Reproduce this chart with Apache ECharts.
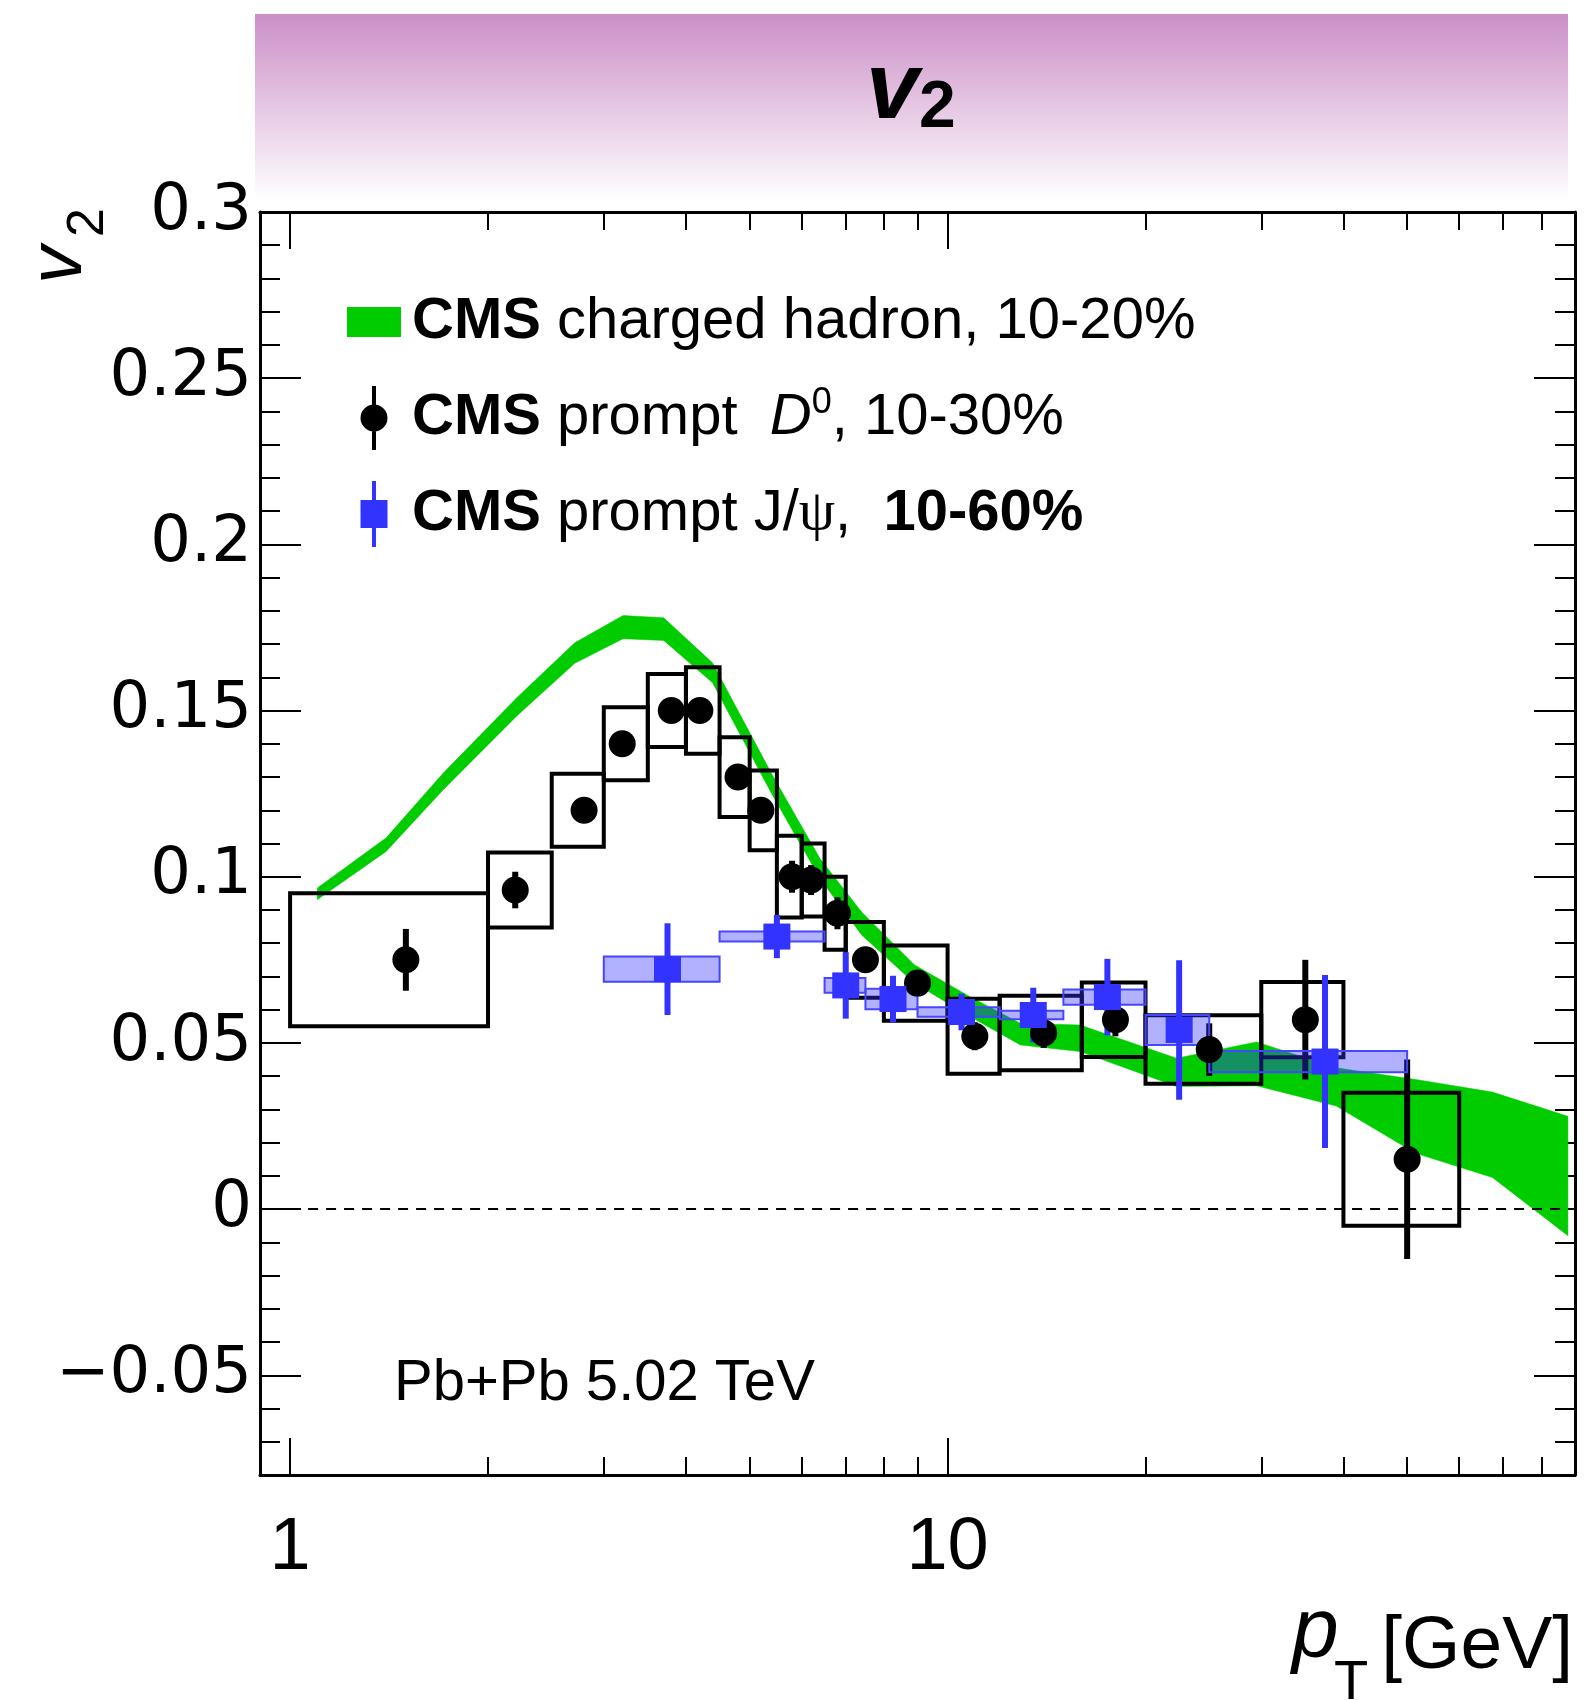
<!DOCTYPE html>
<html>
<head>
<meta charset="utf-8">
<title>v2 vs pT</title>
<script src="https://cdn.jsdelivr.net/npm/echarts@6.0.0/dist/echarts.min.js"></script>
<style>
  html, body { margin: 0; padding: 0; background: #fff; }
  #chart_container { width: 1584px; height: 1700px; }
</style>
</head>
<body>
<div id="chart_container"></div>
<script>
// ---- data ----
// CMS charged hadron v2, 10-20% (band: lower / upper edge)
var hadronPt = [1.1, 1.4, 1.71, 2.21, 2.71, 3.21, 3.7, 4.39, 5.4, 6.4, 7.4, 8.9, 10.8, 12.9, 15.9, 22.3, 29.5, 39, 51.5, 67.4, 87.8];
var hadronLo = [0.0931, 0.1076, 0.1262, 0.1483, 0.1642, 0.1716, 0.1711, 0.1584, 0.125, 0.0994, 0.0825, 0.068, 0.058, 0.0494, 0.0474, 0.0369, 0.0371, 0.031, 0.0168, 0.0095, -0.008];
var hadronHi = [0.0966, 0.1117, 0.1312, 0.1538, 0.1704, 0.1786, 0.1779, 0.1644, 0.131, 0.1054, 0.0894, 0.0735, 0.064, 0.0559, 0.0554, 0.0454, 0.0503, 0.0425, 0.039, 0.0352, 0.0279];

// CMS prompt D0, 10-30%
var d0Pt    = [1.5, 2.2, 2.8, 3.2, 3.8, 4.2, 4.8, 5.2, 5.8, 6.2, 6.8, 7.5, 9.0, 11.0, 14.0, 18.0, 25.0, 35.0, 50.0];
var d0V2    = [0.075, 0.096, 0.120, 0.140, 0.150, 0.150, 0.130, 0.120, 0.100, 0.099, 0.089, 0.075, 0.068, 0.052, 0.053, 0.057, 0.048, 0.057, 0.015];
var d0Stat  = [0.0093, 0.0055, 0.003, 0.003, 0.003, 0.003, 0.003, 0.003, 0.0048, 0.0045, 0.0048, 0.003, 0.003, 0.0042, 0.0045, 0.005, 0.0079, 0.018, 0.030];
var d0Syst  = [0.020, 0.0113, 0.011, 0.011, 0.011, 0.013, 0.012, 0.012, 0.0123, 0.011, 0.011, 0.0114, 0.0113, 0.0113, 0.0112, 0.0112, 0.0103, 0.0113, 0.020];
var d0BinLo = [1, 2, 2.5, 3, 3.5, 4, 4.5, 5, 5.5, 6, 6.5, 7, 8, 10, 12, 16, 20, 30, 40];
var d0BinHi = [2, 2.5, 3, 3.5, 4, 4.5, 5, 5.5, 6, 6.5, 7, 8, 10, 12, 16, 20, 30, 40, 60];

// CMS prompt J/psi, 10-60%
var jpsiPt    = [3.75, 5.5, 7.0, 8.26, 10.5, 13.5, 17.5, 22.5, 37.5];
var jpsiV2    = [0.0722, 0.082, 0.0673, 0.0632, 0.0593, 0.0584, 0.0638, 0.0539, 0.0444];
var jpsiStat  = [0.0138, 0.0065, 0.010, 0.007, 0.0055, 0.0082, 0.0115, 0.021, 0.026];
var jpsiSyst  = [0.0038, 0.0015, 0.0022, 0.0031, 0.0014, 0.0013, 0.0023, 0.0045, 0.0032];
var jpsiBinLo = [3, 4.5, 6.5, 7.5, 9, 12, 15, 20, 25];
var jpsiBinHi = [4.5, 6.5, 7.5, 9, 12, 15, 20, 25, 50];

// axis ticks
var yMajorTicks = [-0.05, 0, 0.05, 0.1, 0.15, 0.2, 0.25, 0.3];
var xMajorTicks = [1, 10];
var xMinorTicks = [2, 3, 4, 5, 6, 7, 8, 9, 20, 30, 40, 50, 60, 70, 80];

var hadronName = "CMS charged hadron, 10-20%";
var d0Name = "CMS prompt D0, 10-30%";
var jpsiName = "CMS prompt J/psi, 10-60%";

var dom = document.getElementById("chart_container");
var myChart = echarts.init(dom, null, {
  renderer: "canvas",
  useDirtyRect: false,
});
var option;

function xAxisDef(pos, ticks, len, withLabels, withLine) {
  var ax = {
    type: "log",
    logBase: 10,
    min: 0.9,
    max: 90,
    position: pos,
    axisLine: { show: withLine, onZero: false, lineStyle: { color: "#000", width: 3 } },
    axisTick: { show: true, inside: true, length: len, customValues: ticks, lineStyle: { color: "#000", width: 2 } },
    axisLabel: { show: false },
    splitLine: { show: false },
    minorTick: { show: false },
  };
  if (withLabels) {
    ax.axisLabel = {
      show: true,
      customValues: ticks,
      margin: 37,
      fontSize: 74,
      color: "#000",
      fontFamily: "Liberation Sans",
    };
  }
  return ax;
}

function yAxisDef(pos, len, major, withLabels, withLine) {
  var ax = {
    type: "value",
    min: -0.08,
    max: 0.3,
    position: pos,
    axisLine: { show: withLine, onZero: false, lineStyle: { color: "#000", width: 3 } },
    axisTick: { show: true, inside: true, length: len, lineStyle: { color: "#000", width: 2 } },
    axisLabel: { show: false },
    splitLine: { show: false },
  };
  if (major) {
    ax.axisTick.customValues = yMajorTicks;
  } else {
    ax.interval = 0.01;
  }
  if (withLabels) {
    ax.axisLabel = {
      show: true,
      customValues: yMajorTicks,
      showMinLabel: true,
      showMaxLabel: true,
      margin: 8,
      fontSize: 64,
      color: "#000",
      fontFamily: "DejaVu Sans",
      formatter: function (v) {
        return String(v).replace("-", "\u2212");
      },
    };
  }
  return ax;
}

// green band drawn as one polygon through the axis scales
function renderBand(params, api) {
  if (params.dataIndex !== 0) return null;
  var pts = [];
  for (var i = 0; i < hadronPt.length; i++) pts.push(api.coord([hadronPt[i], hadronHi[i]]));
  for (var j = hadronPt.length - 1; j >= 0; j--) pts.push(api.coord([hadronPt[j], hadronLo[j]]));
  return {
    type: "polygon",
    shape: { points: pts },
    style: { fill: "#00cc00", stroke: "#00cc00", lineWidth: 0.5 },
  };
}

// systematic boxes: [binLo, binHi, v2, syst]
function boxRenderer(fill, stroke, width) {
  return function (params, api) {
    var p0 = api.coord([api.value(0), api.value(2) + api.value(3)]);
    var p1 = api.coord([api.value(1), api.value(2) - api.value(3)]);
    return {
      type: "rect",
      shape: { x: p0[0], y: p0[1], width: p1[0] - p0[0], height: p1[1] - p0[1] },
      style: { fill: fill, stroke: stroke, lineWidth: width },
    };
  };
}

// stat error bars: [pt, v2, stat]
function barRenderer(color) {
  return function (params, api) {
    var top = api.coord([api.value(0), api.value(1) + api.value(2)]);
    var bot = api.coord([api.value(0), api.value(1) - api.value(2)]);
    return {
      type: "rect",
      shape: { x: top[0] - 3, y: top[1], width: 6, height: bot[1] - top[1] },
      style: { fill: color },
    };
  };
}

var bandData = hadronPt.map(function (p, i) { return [p, hadronLo[i], hadronHi[i]]; });
var d0BoxData = d0Pt.map(function (p, i) { return [d0BinLo[i], d0BinHi[i], d0V2[i], d0Syst[i]]; });
var d0BarData = d0Pt.map(function (p, i) { return [p, d0V2[i], d0Stat[i]]; });
var d0PointData = d0Pt.map(function (p, i) { return [p, d0V2[i]]; });
var jpsiBoxData = jpsiPt.map(function (p, i) { return [jpsiBinLo[i], jpsiBinHi[i], jpsiV2[i], jpsiSyst[i]]; });
var jpsiBarData = jpsiPt.map(function (p, i) { return [p, jpsiV2[i], jpsiStat[i]]; });
var jpsiPointData = jpsiPt.map(function (p, i) { return [p, jpsiV2[i]]; });

var legendText = {};
legendText[hadronName] = "{t|}{b|CMS}{r| charged hadron, 10-20%}";
legendText[d0Name] = "{t|}{b|CMS}{r| prompt  }{i|D}{sup|0}{r|, 10-30%}";
legendText[jpsiName] = "{t|}{b|CMS}{r| prompt J/}{psi|\u03c8}{r|,  }{b|10-60%}";

var bandGradient = new echarts.graphic.LinearGradient(0, 0, 0, 1, [
  { offset: 0, color: "#cc8fc8" },
  { offset: 1, color: "#ffffff" },
]);

option = {
  animation: false,
  backgroundColor: "#ffffff",
  textStyle: { fontFamily: "Liberation Sans" },
  grid: { left: 260, right: 9, top: 212, bottom: 225, outerBoundsMode: "none" },
  xAxis: [
    xAxisDef("bottom", xMajorTicks, 37, true, true),
    xAxisDef("bottom", xMinorTicks, 18, false, false),
    xAxisDef("top", xMajorTicks, 37, false, true),
    xAxisDef("top", xMinorTicks, 18, false, false),
  ],
  yAxis: [
    yAxisDef("left", 41, true, true, true),
    yAxisDef("left", 20, false, false, false),
    yAxisDef("right", 41, true, false, true),
    yAxisDef("right", 20, false, false, false),
  ],
  legend: {
    orient: "vertical",
    left: 342,
    top: 284,
    itemWidth: 54,
    itemHeight: 66,
    itemGap: 30,
    data: [
      {
        name: hadronName,
        icon: "path://M0 0M54 66M0 18L54 18L54 48L0 48Z",
        itemStyle: { color: "#00cc00", borderWidth: 0 },
      },
      {
        name: d0Name,
        icon: "path://M0 0M54 66M25 1L29 1L29 65L25 65ZM40.5 33A13.5 13.5 0 1 1 13.5 33A13.5 13.5 0 1 1 40.5 33Z",
        itemStyle: { color: "#000000", borderWidth: 0 },
      },
      {
        name: jpsiName,
        icon: "path://M0 0M54 66M25 0L29 0L29 66L25 66ZM13.5 19L40.5 19L40.5 47L13.5 47Z",
        itemStyle: { color: "#3333ff", borderWidth: 0 },
      },
    ],
    formatter: function (name) {
      return legendText[name];
    },
    textStyle: {
      color: "#000",
      fontSize: 58,
      lineHeight: 66,
      fontFamily: "Liberation Sans",
      rich: {
        t: { width: 6, fontSize: 58, lineHeight: 66 },
        b: { fontSize: 58, lineHeight: 66, fontWeight: "bold", fontFamily: "Liberation Sans" },
        r: { fontSize: 58, lineHeight: 66, fontFamily: "Liberation Sans" },
        i: { fontSize: 58, lineHeight: 66, fontStyle: "italic", fontFamily: "Liberation Sans" },
        sup: { fontSize: 36, verticalAlign: "top", fontFamily: "Liberation Sans" },
        psi: { fontSize: 58, lineHeight: 66, fontFamily: "Liberation Serif" },
      },
    },
  },
  graphic: [
    {
      type: "rect",
      x: 255,
      y: 14,
      shape: { width: 1313, height: 186 },
      style: { fill: bandGradient },
      silent: true,
    },
    {
      type: "text",
      x: 866,
      y: 92,
      style: { text: "v", font: 'italic bold 95px "Liberation Sans"', fill: "#000", align: "left", verticalAlign: "middle" },
    },
    {
      type: "text",
      x: 919,
      y: 109,
      style: { text: "2", font: 'bold 66px "Liberation Sans"', fill: "#000", align: "left", verticalAlign: "middle" },
    },
    {
      type: "text",
      x: 60,
      y: 284,
      rotation: Math.PI / 2,
      style: { text: "v", font: 'italic 76px "Liberation Sans"', fill: "#000", align: "left", verticalAlign: "middle" },
    },
    {
      type: "text",
      x: 89,
      y: 237,
      rotation: Math.PI / 2,
      style: { text: "2", font: '52px "Liberation Sans"', fill: "#000", align: "left", verticalAlign: "middle" },
    },
    {
      type: "text",
      x: 1292,
      y: 1634,
      style: { text: "p", font: 'italic 84px "Liberation Sans"', fill: "#000", align: "left", verticalAlign: "middle" },
    },
    {
      type: "text",
      x: 1334,
      y: 1684,
      style: { text: "T", font: '56px "Liberation Sans"', fill: "#000", align: "left", verticalAlign: "middle" },
    },
    {
      type: "text",
      x: 1573,
      y: 1647,
      style: { text: "[GeV]", font: '75px "Liberation Sans"', fill: "#000", align: "right", verticalAlign: "middle" },
    },
    {
      type: "text",
      x: 394,
      y: 1384,
      style: { text: "Pb+Pb 5.02 TeV", font: '58px "Liberation Sans"', fill: "#000", align: "left", verticalAlign: "middle" },
    },
  ],
  series: [
    {
      name: hadronName,
      type: "custom",
      renderItem: renderBand,
      encode: { x: 0, y: [1, 2] },
      data: bandData,
      silent: true,
      markLine: {
        silent: true,
        symbol: "none",
        label: { show: false },
        lineStyle: { color: "#000", width: 2, type: [10, 8] },
        data: [[{ coord: [1, 0] }, { coord: [90, 0] }]],
      },
    },
    {
      name: d0Name,
      type: "custom",
      renderItem: boxRenderer("rgba(0,0,0,0)", "#000", 4),
      encode: { x: [0, 1], y: 2 },
      data: d0BoxData,
    },
    {
      name: d0Name,
      type: "custom",
      renderItem: barRenderer("#000"),
      encode: { x: 0, y: 1 },
      data: d0BarData,
    },
    {
      name: d0Name,
      type: "scatter",
      symbol: "circle",
      symbolSize: 27,
      itemStyle: { color: "#000", opacity: 1 },
      data: d0PointData,
    },
    {
      name: jpsiName,
      type: "custom",
      renderItem: boxRenderer("rgba(51,51,255,0.38)", "#4646ff", 2),
      encode: { x: [0, 1], y: 2 },
      data: jpsiBoxData,
    },
    {
      name: jpsiName,
      type: "custom",
      renderItem: barRenderer("#3333ff"),
      encode: { x: 0, y: 1 },
      data: jpsiBarData,
    },
    {
      name: jpsiName,
      type: "scatter",
      symbol: "rect",
      symbolSize: [27, 26],
      itemStyle: { color: "#3333ff", opacity: 1 },
      data: jpsiPointData,
    },
  ],
};

if (option && typeof option === "object") {
  myChart.setOption(option);
}

window.addEventListener("resize", myChart.resize);
</script>
</body>
</html>
